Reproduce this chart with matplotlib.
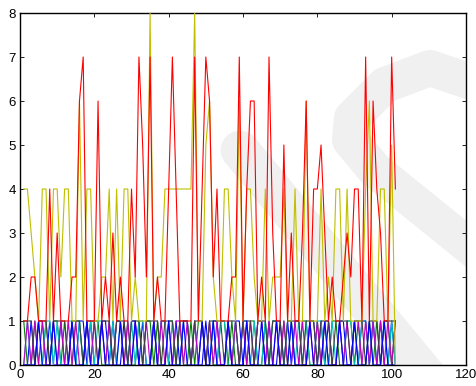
import matplotlib
matplotlib.use("Agg")
import matplotlib.pyplot as plt
import numpy as np

plt.rcParams['font.family'] = ['Liberation Sans', 'DejaVu Sans']

# x positions 1..101
x_start, x_stop = 1, 101

red_vals = [1, 1, 2, 2, 1, 1, 1, 4, 1, 3,
            1, 1, 1, 2, 2, 6, 7, 1, 1, 1,
            6, 1, 2, 1, 3, 1, 2, 1, 1, 4,
            2, 7, 5, 2, 7, 1, 2, 1, 1, 4,
            7, 4, 1, 1, 1, 1, 7, 1, 4, 7,
            6, 2, 4, 1, 1, 1, 2, 2, 7, 1,
            4, 6, 6, 1, 2, 1, 7, 3, 1, 1,
            5, 1, 3, 1, 1, 3, 6, 1, 4, 4,
            5, 3, 1, 2, 1, 1, 2, 3, 2, 4,
            4, 1, 7, 1, 6, 4, 3, 1, 1, 7,
            4]

yellow_vals = [4, 4, 3, 2, 1, 4, 4, 1, 4, 4,
               2, 4, 4, 1, 1, 6, 1, 4, 4, 1,
               1, 2, 2, 4, 1, 4, 1, 4, 4, 1,
               2, 1, 1, 1, 8, 1, 2, 2, 4, 4,
               4, 4, 4, 4, 4, 4, 8, 1, 1, 5,
               6, 2, 1, 1, 4, 4, 2, 1, 6, 1,
               4, 4, 2, 1, 1, 4, 1, 2, 2, 2,
               4, 1, 1, 4, 1, 1, 6, 1, 1, 1,
               4, 1, 2, 1, 4, 4, 1, 4, 1, 1,
               1, 1, 4, 6, 1, 1, 4, 4, 1, 5,
               0]

blue_bits = "0010110100" "1001011010" "0110100101" "1010010110" "0101101001" \
            "0110010110" "1001101001" "0101100110" "1010011001" "0110101001" "0"
green_bits = "1001001011" "0100110101" "1001011010" "0101101001" "1010010110" \
             "1001101001" "0110010110" "1010011001" "0101100110" "1001010110" "1"
teal_bits = "0100101101" "0011010010" "1100101001" "0110010110" "1001101010" \
            "0101100101" "1010010110" "0110101001" "1001010110" "0110100101" "0"
magenta_bits = "0101010010" "1010100101" "0101011010" "1001010101" "0110101010" \
               "1010010101" "0101101010" "1001010101" "0110010101" "1010101010" "1"
gray_bits = "1110111011" "1101110111" "0111011101" "1101111011" "1011101110" \
            "1111011101" "1101110111" "0111101110" "1110111101" "1101110111" "1"
blue2_bits = "0000100010" "0001000100" "0100001000" "1000010001" "0001000010" \
             "0100010000" "1000100010" "0010000100" "0100010001" "0001000100" "0"

binary_series = [
    ("blue", blue_bits),
    ("green", green_bits),
    ("teal", teal_bits),
    ("magenta", magenta_bits),
    ("gray", gray_bits),
    ("blue2", blue2_bits),
]
binary_colors = {
    "blue": (0, 0, 1),
    "green": (0, 0.5, 0),
    "teal": (0, 0.75, 0.75),
    "magenta": (0.75, 0, 0.75),
    "gray": (0.25, 0.25, 0.25),
    "blue2": (0, 0, 1),
}

x_ticks = [0, 20, 40, 60, 80, 100, 120]
y_ticks = [0, 1, 2, 3, 4, 5, 6, 7, 8]

W, H = 477, 386
fig = plt.figure(figsize=(W / 100, H / 100), dpi=100)
ax = fig.add_axes([20 / W, (H - 365) / H, 446 / W, 352 / H])
ax.set_xlim(0, 120)
ax.set_ylim(0, 8)

# watermark (light grey strokes)
def px(pxx, pyy):
    return ((pxx - 20) / 446, (365 - pyy) / 352)

wm_color = '#f0f0f0'
a = [px(240, 150), px(430, 380)]
ax.plot([p[0] for p in a], [p[1] for p in a], transform=ax.transAxes,
        color=wm_color, lw=28, solid_capstyle='round', zorder=0, clip_on=True)
b = [px(480, 85), px(430, 68), px(385, 85), px(352, 118), px(350, 140),
     px(375, 170), px(480, 255)]
ax.plot([p[0] for p in b], [p[1] for p in b], transform=ax.transAxes,
        color=wm_color, lw=26, solid_capstyle='round', solid_joinstyle='round',
        zorder=0, clip_on=True)

xs = np.arange(x_start, x_stop + 1)
for name, bits in binary_series:
    vals = [int(c) for c in bits]
    ax.plot(xs, vals, color=binary_colors[name], lw=0.8, zorder=2)

ax.plot(xs, yellow_vals, color=(0.75, 0.75, 0), lw=0.8, zorder=3)
ax.plot(xs, red_vals, color=(1, 0, 0), lw=0.8, zorder=4)

ax.set_xticks(x_ticks)
ax.set_yticks(y_ticks)
ax.tick_params(direction='in', top=True, right=True, length=3, width=0.6,
               labelsize=9.5, pad=3)
for s in ax.spines.values():
    s.set_linewidth(1.0)
    s.set_color('black')

fig.savefig("out.png", dpi=100)
